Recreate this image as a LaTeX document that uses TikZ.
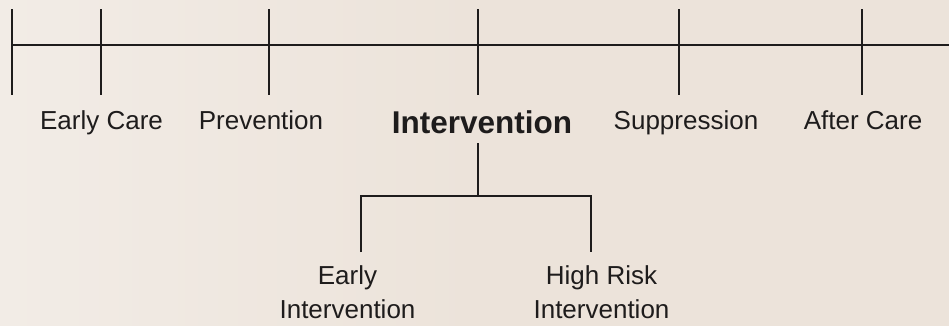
\documentclass[tikz,border=0pt]{standalone}
\usepackage{fontspec}
\setmainfont{Liberation Sans}
\definecolor{paper}{RGB}{236,227,218}
\definecolor{paperlight}{RGB}{242,236,230}
\definecolor{ink}{RGB}{30,28,28}
\tikzset{
  axis/.style={draw=ink, line width=1.6pt},
  tick/.style={draw=ink, line width=1.4pt},
  stage/.style={text=ink, font=\fontsize{26}{31}\selectfont, anchor=base, inner sep=0pt},
  focus/.style={text=ink, font=\fontsize{31.5}{37}\selectfont\bfseries, anchor=base, inner sep=0pt},
  branch/.style={text=ink, font=\fontsize{26}{34}\selectfont, align=center, anchor=base, inner sep=0pt},
}
\begin{document}
\begin{tikzpicture}[x=1pt, y=-1pt]
  % background
  \shade[left color=paperlight, right color=paper, middle color=paper] (0,0) rectangle (949,325);
  \useasboundingbox (0,0) rectangle (949,325);

  % time axis
  \coordinate (axL) at (12,45);
  \coordinate (axR) at (949,45);
  \draw[axis] (axL) -- (axR);

  % ticks
  \foreach \n/\x in {t0/12, t1/101, t2/269, t3/478, t4/679, t5/862} {
    \coordinate (\n top) at (\x,9);
    \coordinate (\n bot) at (\x,95);
    \draw[tick] (\n top) -- (\n bot);
  }

  % stage labels
  \node[stage] (early)  at (101.5,129) {Early Care};
  \node[stage] (prev)   at (261,129)   {Prevention};
  \node[focus] (interv) at (482,133)   {Intervention};
  \node[stage] (supp)   at (686,129)   {Suppression};
  \node[stage] (after)  at (863,129)   {After Care};

  % intervention branches
  \coordinate (stemTop) at (478,143);
  \coordinate (stemBot) at (478,196);
  \coordinate (brL) at (361,196);
  \coordinate (brR) at (591,196);
  \coordinate (legL) at (361,252);
  \coordinate (legR) at (591,252);
  \draw[tick] (stemTop) -- (stemBot);
  \draw[tick] (legL) -- (brL) -- (brR) -- (legR);

  \node[branch] (eint) at (347.5,318) {Early\\Intervention};
  \node[branch] (hint) at (601.5,318) {High Risk\\Intervention};
\end{tikzpicture}
\end{document}
